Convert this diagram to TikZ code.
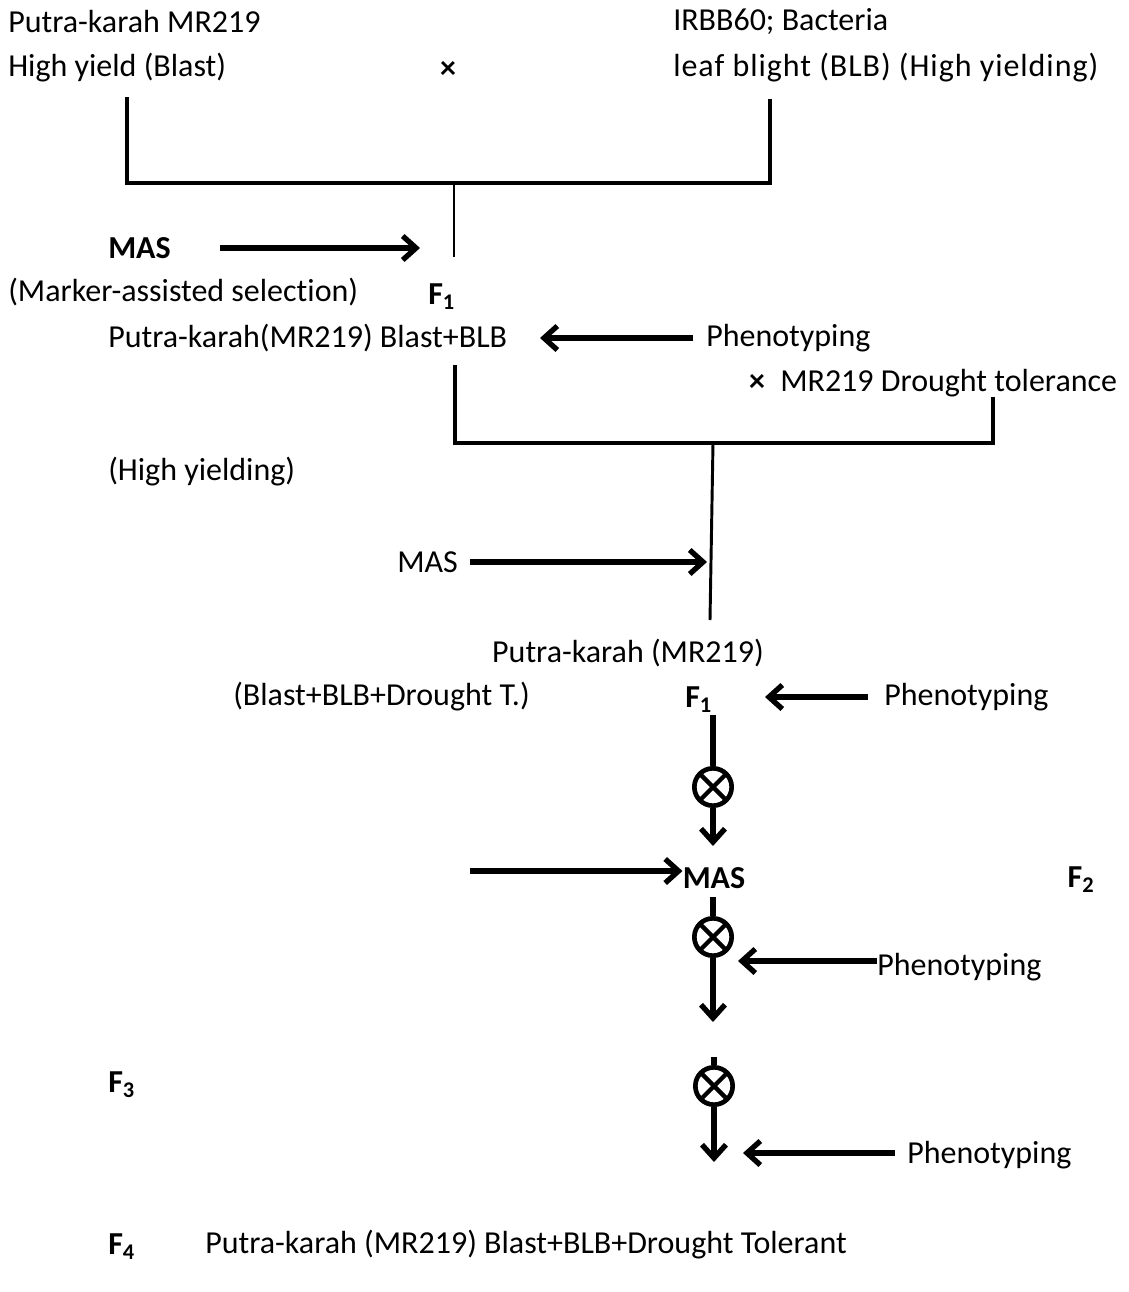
\documentclass[tikz,border=0pt]{standalone}
\usepackage{fontspec}
\setmainfont{Carlito}[Ligatures=NoCommon]
\usetikzlibrary{arrows.meta}

\tikzset{
  every node/.style={font=\fontsize{24}{29}\selectfont,inner sep=0pt},
  lbl/.style={anchor=west},
  bar/.style={line width=3.6pt},
  stem/.style={line width=2.2pt},
  vline/.style={line width=3.8pt},
  arr/.style={line width=4pt,-{Straight Barb[length=10pt,width=18pt]}},
  selfing/.style={circle,draw,line width=3.5pt,minimum size=28pt,
    path picture={\draw[line width=3.2pt]
      (path picture bounding box.north west) -- (path picture bounding box.south east)
      (path picture bounding box.north east) -- (path picture bounding box.south west);}}
}

\begin{document}
\begin{tikzpicture}[x=0.75pt,y=-0.75pt]
\useasboundingbox (0,0) rectangle (1128,1292);

% parents
\node[lbl] (parA) at (8,22) {Putra-karah MR219};
\node[lbl] (parAy) at (8,68) {High yield (Blast)};
\node (crossA) at (448,70) {\textbf{×}};
\node[lbl] (parB) at (673,22) {IRBB60; Bacteria};
\node[lbl] (parBy) at (673,68) {\addfontfeatures{LetterSpace=3}leaf blight (BLB) (High yielding)};

\coordinate (b1l) at (127,97);
\coordinate (b1r) at (770,99);
\coordinate (b1m) at (454,183);
\coordinate (s1) at (454,257);
\draw[bar] (b1l) |- (b1m) -| (b1r);
\draw[stem] (b1m) -- (s1);

\node[lbl] (masA) at (108,248) {\textbf{MAS}};
\coordinate (mAs) at (220,248);
\coordinate (mAe) at (420,248);
\draw[arr] (mAs) -- (mAe);
\node[lbl] (masSel) at (8,292) {(Marker-assisted selection)};
\node[lbl] (fA) at (428,297) {\textbf{F\textsubscript{1}}};

% second cross
\node[lbl] (selA) at (108,338) {Putra-karah(MR219) Blast+BLB};
\node[lbl] (phenoA) at (706,338) {Phenotyping};
\coordinate (phAtip) at (540,338);
\draw[arr,shorten <=10pt] (phenoA.west) -- (phAtip);

\node (crossB) at (757,383) {\textbf{×}};
\node[lbl] (parC) at (780,383) {MR219 Drought tolerance};
\coordinate (b2l) at (455,365);
\coordinate (b2r) at (993,397);
\coordinate (b2m) at (713,443);
\coordinate (s2) at (710,620);
\draw[bar] (b2l) |- (b2m) -| (b2r);
\draw[stem] (b2m) -- (s2);
\node[lbl] (hiyield) at (108,472) {(High yielding)};

\node[lbl] (masB) at (397,562) {MAS};
\coordinate (mBs) at (470,562);
\coordinate (mBe) at (707,562);
\draw[arr] (mBs) -- (mBe);

\node (selB) at (628,653) {Putra-karah (MR219)};
\node[lbl] (selBt) at (233,697) {(Blast+BLB+Drought T.)};
\node[lbl] (fB) at (685,700) {\textbf{F\textsubscript{1}}};
\node[lbl] (phenoB) at (884,697) {Phenotyping};
\coordinate (phBtip) at (765,697);
\draw[arr,shorten <=12pt] (phenoB.west) -- (phBtip);

% selfing
\coordinate (c0) at (713,715);
\node[selfing] (self1) at (713,787) {};
\coordinate (c1) at (713,846);
\draw[vline] (c0) -- (self1.north);
\draw[arr] (self1.south) -- (c1);

\node (masC) at (714,878) {\textbf{MAS}};
\coordinate (mCs) at (470,871);
\draw[arr] (mCs) -- (mCs -| masC.west);
\node (fC) at (1081,880) {\textbf{F\textsubscript{2}}};

\coordinate (c2) at (713,897);
\node[selfing] (self2) at (713,937) {};
\coordinate (c3) at (713,1022);
\draw[vline] (c2) -- (self2.north);
\draw[arr] (self2.south) -- (c3);
\node[lbl] (phenoC) at (877,967) {Phenotyping};
\coordinate (phCtip) at (738,961);
\draw[arr] (phenoC.west |- phCtip) -- (phCtip);

\coordinate (c4) at (714,1057);
\node[selfing] (self3) at (714,1086) {};
\coordinate (c5) at (714,1162);
\draw[vline] (c4) -- (self3.north);
\draw[arr] (self3.south) -- (c5);
\node[lbl] (phenoD) at (907,1155) {Phenotyping};
\coordinate (phDtip) at (743,1153);
\draw[arr,shorten <=9pt] (phenoD.west |- phDtip) -- (phDtip);
\node[lbl] (fD) at (108,1085) {\textbf{F\textsubscript{3}}};

% final line
\node[lbl] (fE) at (108,1247) {\textbf{F\textsubscript{4}}};
\node[lbl] (final) at (205,1245) {Putra-karah (MR219) Blast+BLB+Drought Tolerant};

\end{tikzpicture}
\end{document}
